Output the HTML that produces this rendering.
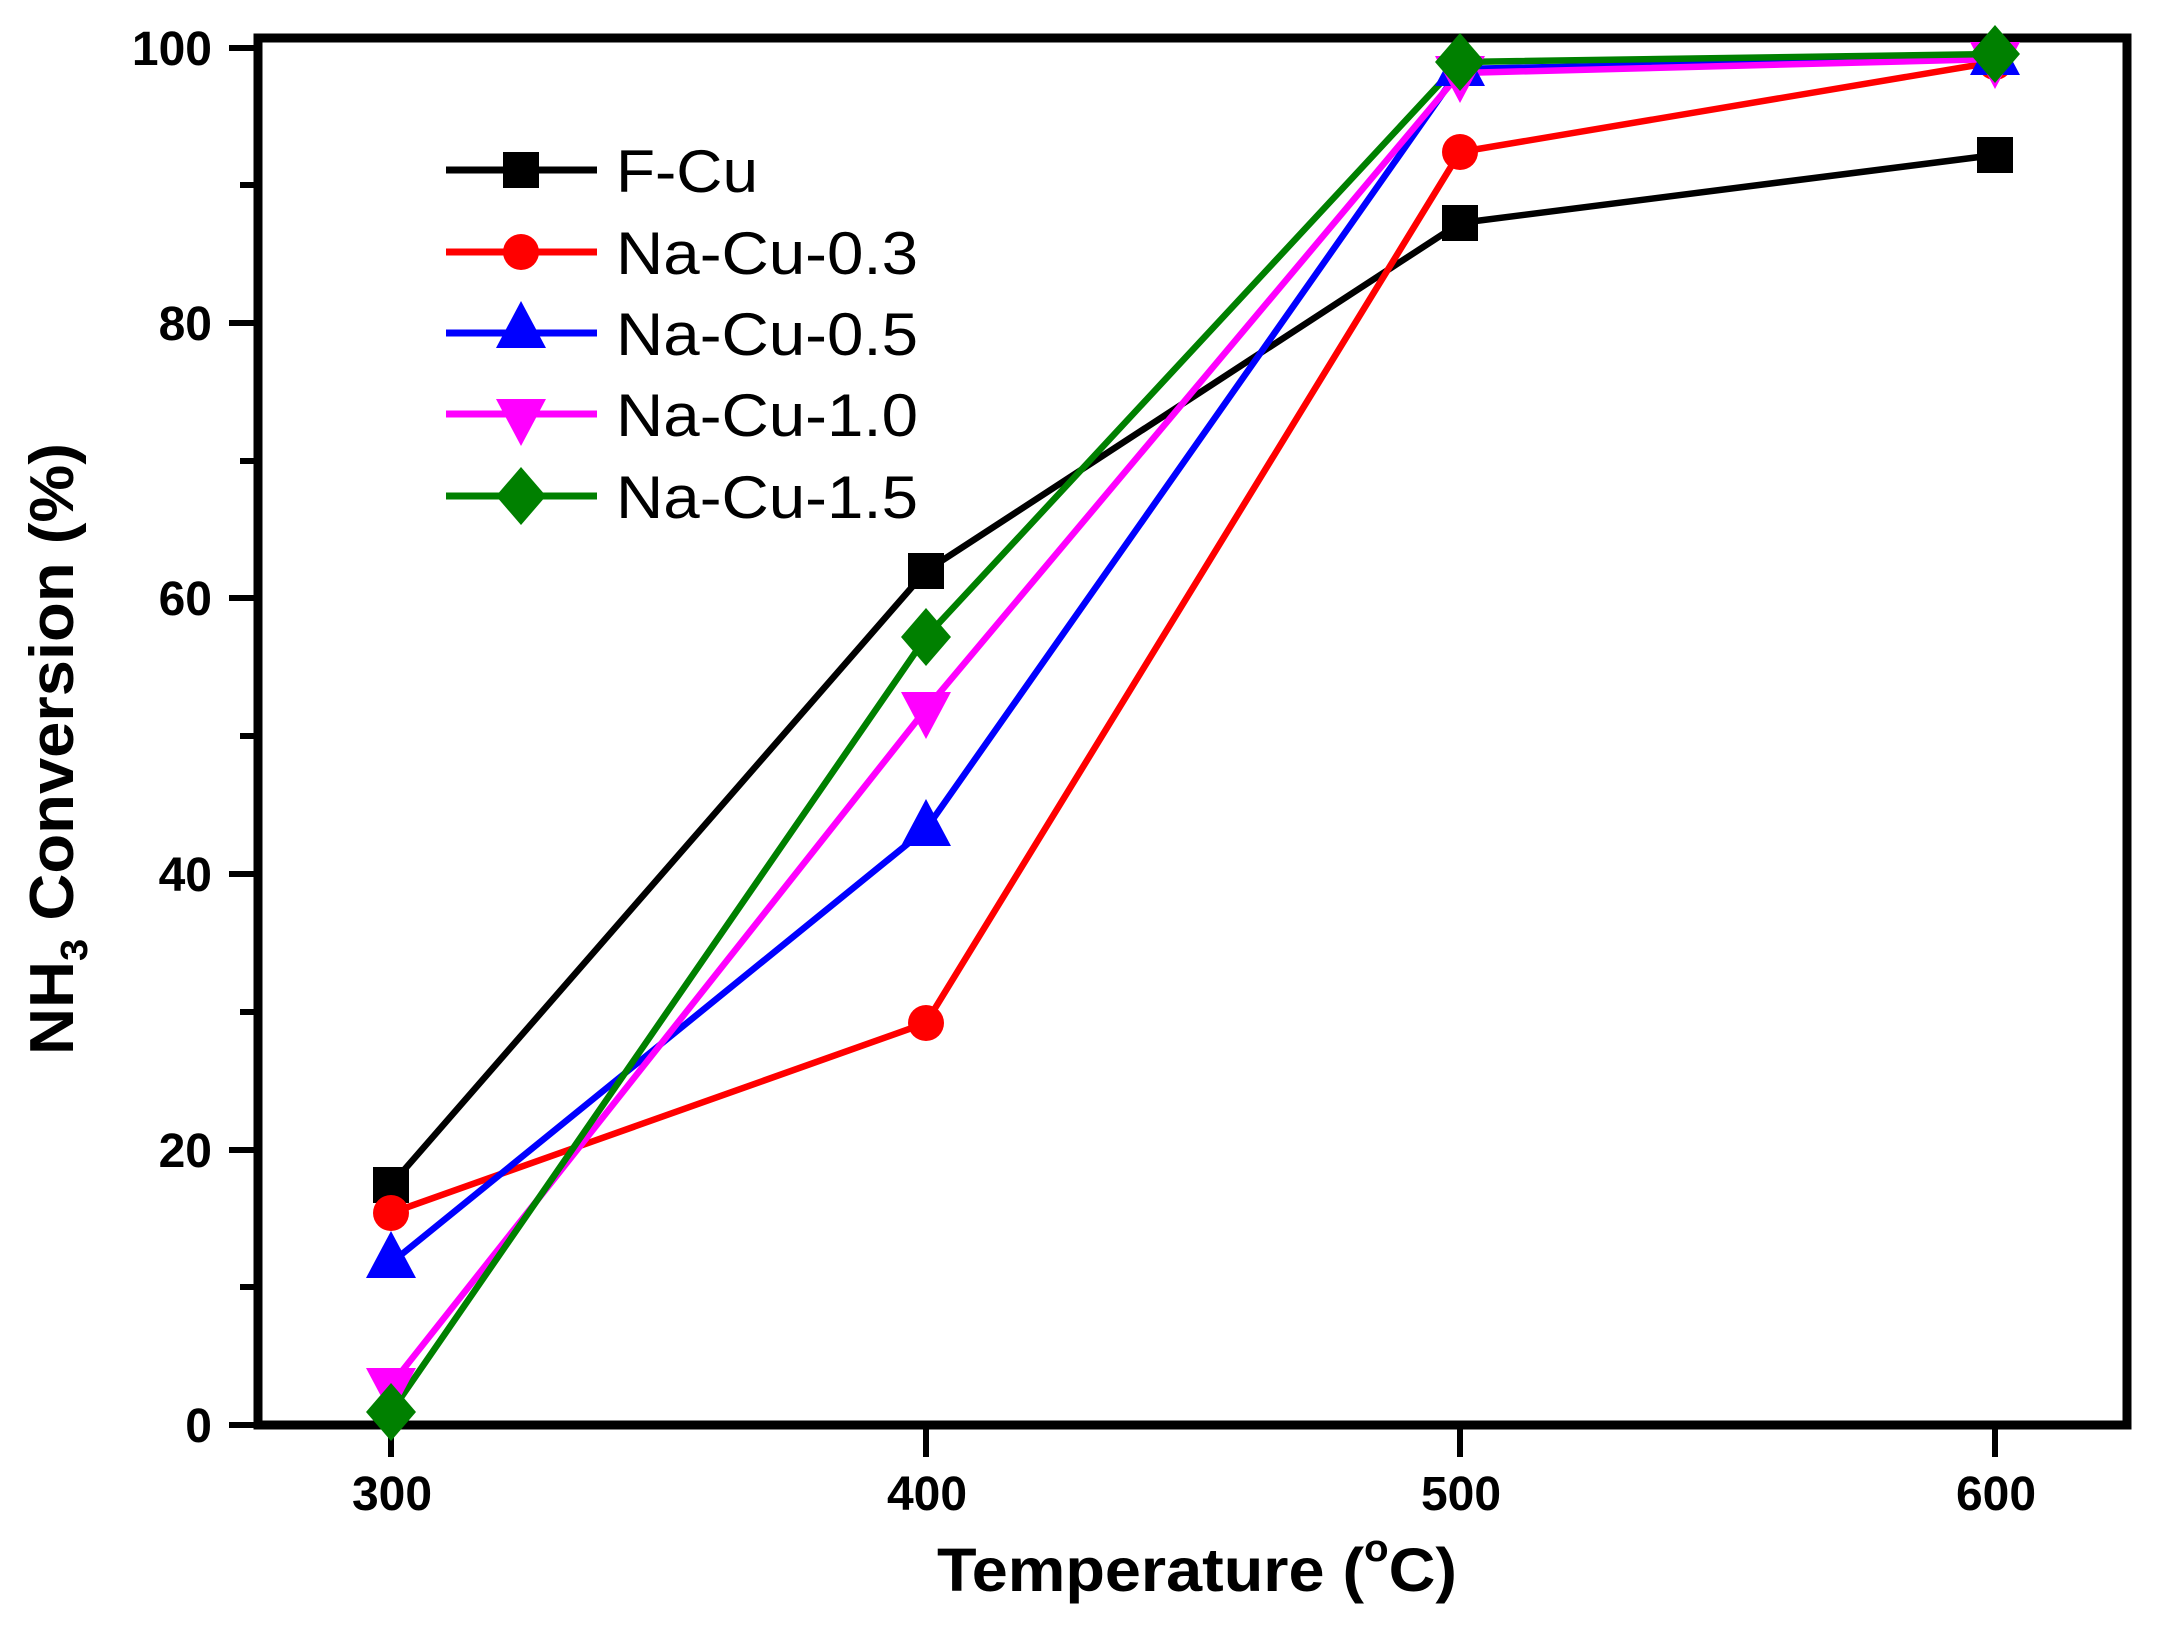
<!DOCTYPE html>
<html><head><meta charset="utf-8"><style>
html,body{margin:0;padding:0;background:#fff;}
svg{display:block;}
</style></head><body>
<svg width="2160" height="1626" viewBox="0 0 2160 1626" xmlns="http://www.w3.org/2000/svg" font-family="Liberation Sans, Arial, sans-serif">
<defs>
<g id="sq"><rect x="-18" y="-18" width="36" height="36"/></g>
<g id="ci"><circle r="18"/></g>
<g id="tu"><polygon points="0,-30 25,17 -25,17"/></g>
<g id="td"><polygon points="0,30 25,-17 -25,-17"/></g>
<g id="di"><polygon points="0,-29 25,0 0,29 -25,0"/></g>
</defs>
<rect width="2160" height="1626" fill="#fff"/>
<rect x="258" y="38" width="1869" height="1387" fill="none" stroke="#000" stroke-width="9"/>
<g stroke="#000" stroke-width="6">
<line x1="229" y1="1425" x2="258" y2="1425"/>
<line x1="229" y1="1150" x2="258" y2="1150"/>
<line x1="229" y1="874" x2="258" y2="874"/>
<line x1="229" y1="598" x2="258" y2="598"/>
<line x1="229" y1="323" x2="258" y2="323"/>
<line x1="229" y1="48" x2="258" y2="48"/>
<line x1="240" y1="1287" x2="258" y2="1287"/>
<line x1="240" y1="1012" x2="258" y2="1012"/>
<line x1="240" y1="736" x2="258" y2="736"/>
<line x1="240" y1="461" x2="258" y2="461"/>
<line x1="240" y1="185" x2="258" y2="185"/>
<line x1="391" y1="1425" x2="391" y2="1457"/>
<line x1="926" y1="1425" x2="926" y2="1457"/>
<line x1="1460" y1="1425" x2="1460" y2="1457"/>
<line x1="1995" y1="1425" x2="1995" y2="1457"/>
</g>
<g font-size="48" font-weight="bold" text-anchor="end" fill="#000">
<text x="212" y="1442">0</text>
<text x="212" y="1167">20</text>
<text x="212" y="891">40</text>
<text x="212" y="615">60</text>
<text x="212" y="340">80</text>
<text x="212" y="65">100</text>
</g>
<g font-size="48" font-weight="bold" text-anchor="middle" fill="#000">
<text x="392" y="1510">300</text>
<text x="927" y="1510">400</text>
<text x="1461" y="1510">500</text>
<text x="1996" y="1510">600</text>
</g>
<text x="937" y="1591" font-size="61" font-weight="bold" textLength="520" lengthAdjust="spacingAndGlyphs">Temperature (<tspan font-size="38" dy="-30">o</tspan><tspan dy="30">C)</tspan></text>
<text transform="translate(73,1055) rotate(-90)" font-size="62" font-weight="bold" textLength="612" lengthAdjust="spacingAndGlyphs">NH<tspan font-size="38" dy="14">3</tspan><tspan dy="-14"> Conversion (%)</tspan></text>
<g fill="none" stroke-width="6.5" stroke-linejoin="round">
<polyline stroke="#000" points="391,1185 926,571 1460,223 1995,155"/>
<polyline stroke="#f00" points="391,1213 926,1023 1460,152 1995,62"/>
<polyline stroke="#00f" points="391,1263 926,829 1460,69 1995,58"/>
<polyline stroke="#f0f" points="391,1385 926,709 1460,73 1995,59"/>
<polyline stroke="#008000" points="391,1412 926,637 1460,62 1995,54"/>
</g>
<g fill="#000"><use href="#sq" x="391" y="1185"/><use href="#sq" x="926" y="571"/><use href="#sq" x="1460" y="223"/><use href="#sq" x="1995" y="155"/></g>
<g fill="#f00"><use href="#ci" x="391" y="1213"/><use href="#ci" x="926" y="1023"/><use href="#ci" x="1460" y="152"/><use href="#ci" x="1995" y="62"/></g>
<g fill="#00f"><use href="#tu" x="391" y="1261"/><use href="#tu" x="926" y="829"/><use href="#tu" x="1460" y="69"/><use href="#tu" x="1995" y="58"/></g>
<g fill="#f0f"><use href="#td" x="391" y="1385"/><use href="#td" x="926" y="709"/><use href="#td" x="1460" y="73"/><use href="#td" x="1995" y="59"/></g>
<g fill="#008000"><use href="#di" x="391" y="1412"/><use href="#di" x="926" y="637"/><use href="#di" x="1460" y="62"/><use href="#di" x="1995" y="54"/></g>
<g stroke-width="7">
<line x1="446" y1="170" x2="597" y2="170" stroke="#000"/>
<line x1="446" y1="252" x2="597" y2="252" stroke="#f00"/>
<line x1="446" y1="333" x2="597" y2="333" stroke="#00f"/>
<line x1="446" y1="414" x2="597" y2="414" stroke="#f0f"/>
<line x1="446" y1="496" x2="597" y2="496" stroke="#008000"/>
</g>
<use href="#sq" x="521" y="170" fill="#000"/>
<use href="#ci" x="521" y="252" fill="#f00"/>
<use href="#tu" x="521" y="331" fill="#00f"/>
<use href="#td" x="521" y="416" fill="#f0f"/>
<use href="#di" x="521" y="496" fill="#008000"/>
<g font-size="60" fill="#000">
<text x="616" y="192" textLength="142" lengthAdjust="spacingAndGlyphs">F-Cu</text>
<text x="616" y="274" textLength="302" lengthAdjust="spacingAndGlyphs">Na-Cu-0.3</text>
<text x="616" y="355" textLength="302" lengthAdjust="spacingAndGlyphs">Na-Cu-0.5</text>
<text x="616" y="436" textLength="302" lengthAdjust="spacingAndGlyphs">Na-Cu-1.0</text>
<text x="616" y="518" textLength="302" lengthAdjust="spacingAndGlyphs">Na-Cu-1.5</text>
</g>
</svg>
</body></html>
